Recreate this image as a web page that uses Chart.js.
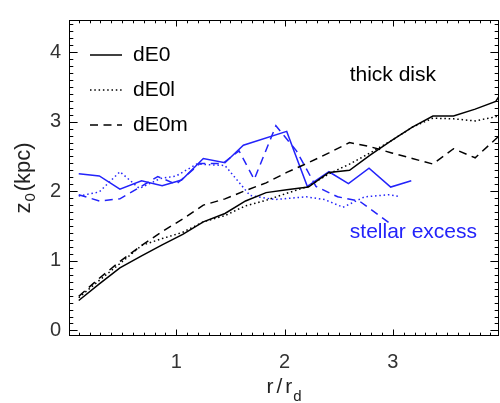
<!DOCTYPE html>
<html lang="en">
<head>
<meta charset="UTF-8" />
<title>z0 profiles</title>
<script src="https://cdn.jsdelivr.net/npm/chart.js"></script>
<style>
  html, body { margin: 0; padding: 0; background: #fff; }
</style>
</head>
<body>
<canvas id="z0Chart" width="500" height="403"></canvas>
<script>
// radial bins (r / r_d) for the thick disk profiles
const rDisk = [0.10, 0.29, 0.48, 0.68, 0.87, 1.06, 1.25, 1.45, 1.64, 1.83, 2.02,
               2.22, 2.41, 2.60, 2.79, 2.99, 3.18, 3.37, 3.56, 3.76, 3.95, 4.14];
// thick disk scale height z0 (kpc)
const z_dE0  = [0.43, 0.67, 0.90, 1.07, 1.23, 1.38, 1.56, 1.68, 1.86, 1.98, 2.02,
                2.06, 2.27, 2.30, 2.52, 2.73, 2.92, 3.08, 3.08, 3.18, 3.29, 3.75];
const z_dE0l = [0.47, 0.72, 0.96, 1.22, 1.32, 1.41, 1.56, 1.65, 1.79, 1.87, 1.97,
                2.07, 2.25, 2.39, 2.55, 2.73, 2.92, 3.05, 3.04, 3.01, 3.07, 3.24];
const z_dE0m = [0.49, 0.75, 0.99, 1.22, 1.42, 1.60, 1.80, 1.89, 2.01, 2.12, 2.27,
                2.41, 2.55, 2.70, 2.64, 2.55, 2.47, 2.39, 2.61, 2.48, 2.75, 3.03];

// stellar excess component
const rExc_dE0  = [0.10, 0.29, 0.48, 0.68, 0.87, 1.05, 1.25, 1.45, 1.62, 2.02, 2.21,
                   2.41, 2.59, 2.78, 2.98, 3.17];
const zExc_dE0  = [2.25, 2.22, 2.03, 2.15, 2.08, 2.16, 2.47, 2.41, 2.66, 2.86, 2.07,
                   2.28, 2.11, 2.33, 2.06, 2.15];
const rExc_dE0l = [0.10, 0.29, 0.48, 0.66, 0.85, 1.00, 1.19, 1.45, 1.68, 1.91, 2.20,
                   2.37, 2.54, 2.74, 2.97, 3.07];
const zExc_dE0l = [1.93, 1.99, 2.28, 2.04, 2.18, 2.22, 2.39, 2.37, 1.94, 1.88, 1.92,
                   1.88, 1.77, 1.92, 1.95, 1.92];
const rExc_dE0m = [0.10, 0.29, 0.48, 0.83, 1.00, 1.22, 1.43, 1.58, 1.72, 1.92, 2.11,
                   2.29, 2.49, 2.69, 2.97];
const zExc_dE0m = [1.95, 1.86, 1.89, 2.21, 2.10, 2.40, 2.40, 2.58, 2.17, 2.94, 2.58,
                   2.07, 1.92, 1.86, 1.54];

const legendNames = ['dE0', 'dE0l', 'dE0m'];

const BLUE = 'rgb(35,35,250)';
const FONT = '"Liberation Sans", Arial, sans-serif';
const SOLID = [], DOTTED = [1.5, 2.8], DASHED = [8, 5.5];

const pts = (rs, zs) => rs.map((r, i) => ({ x: r, y: zs[i] }));
const line = (label, data, color, dash) => ({
  label, data, borderColor: color, borderWidth: 1.5, borderDash: dash,
  pointRadius: 0, tension: 0, fill: false
});

// inward ticks on all four sides plus the frame
const frameTicks = {
  id: 'frameTicks',
  afterDatasetsDraw(chart) {
    const { ctx, chartArea: a, scales: { x, y } } = chart;
    ctx.save();
    ctx.strokeStyle = '#000';
    ctx.lineWidth = 1;
    ctx.strokeRect(a.left + 0.5, a.top + 0.5, a.right - a.left - 1, a.bottom - a.top - 1);
    ctx.beginPath();
    for (let i = 1; i < 40; i++) {
      const px = Math.round(x.getPixelForValue(i / 10)) + 0.5;
      const len = i % 10 === 0 ? 6.5 : 3.3;
      ctx.moveTo(px, a.bottom); ctx.lineTo(px, a.bottom - len);
      ctx.moveTo(px, a.top); ctx.lineTo(px, a.top + len);
    }
    for (let i = 0; i <= 44; i++) {
      const py = Math.round(y.getPixelForValue(i / 10)) + 0.5;
      const len = i % 10 === 0 ? 8.6 : 4.3;
      ctx.moveTo(a.left, py); ctx.lineTo(a.left + len, py);
      ctx.moveTo(a.right, py); ctx.lineTo(a.right - len, py);
    }
    ctx.stroke();
    ctx.restore();
  }
};

// legend, axis titles and labels
const annotations = {
  id: 'annotations',
  afterDraw(chart) {
    const { ctx, chartArea: a, scales: { x, y } } = chart;
    ctx.save();

    // legend
    ctx.font = '21px ' + FONT;
    ctx.textBaseline = 'middle';
    ctx.textAlign = 'left';
    legendNames.forEach((name, i) => {
      const ds = chart.data.datasets[i];
      const ly = a.top + 35 + i * 35;
      ctx.strokeStyle = ds.borderColor;
      ctx.lineWidth = ds.borderWidth;
      ctx.setLineDash(ds.borderDash);
      ctx.beginPath();
      ctx.moveTo(a.left + 21, ly);
      ctx.lineTo(a.left + 53, ly);
      ctx.stroke();
      ctx.setLineDash([]);
      ctx.fillStyle = '#000';
      ctx.fillText(name, a.left + 64, ly);
    });

    // labels inside the plot
    ctx.textAlign = 'center';
    ctx.fillStyle = '#000';
    ctx.fillText('thick disk', x.getPixelForValue(3.0), y.getPixelForValue(3.66));
    ctx.fillStyle = BLUE;
    ctx.fillText('stellar excess', x.getPixelForValue(3.19), y.getPixelForValue(1.41));

    // x title: r / r_d, glyphs spaced apart
    ctx.fillStyle = '#222';
    ctx.textBaseline = 'alphabetic';
    ctx.textAlign = 'left';
    const parts = ['r', '/', 'r'];
    const gap = 3;
    ctx.font = '21px ' + FONT;
    const widths = parts.map(p => ctx.measureText(p).width);
    ctx.font = '15px ' + FONT;
    const wSub = ctx.measureText('d').width;
    const total = widths.reduce((s, w) => s + w, 0) + gap * 2 + 1 + wSub;
    let tx = (a.left + a.right) / 2 - total / 2;
    ctx.font = '21px ' + FONT;
    parts.forEach((p, i) => {
      ctx.fillText(p, tx, 393);
      tx += widths[i] + (i < 2 ? gap : 1);
    });
    ctx.font = '15px ' + FONT;
    ctx.fillText('d', tx, 401);

    // y title: z_0(kpc)
    ctx.translate(30, (a.top + a.bottom) / 2);
    ctx.rotate(-Math.PI / 2);
    ctx.font = '22px ' + FONT;
    const wz = ctx.measureText('z').width;
    const wk = ctx.measureText('(kpc)').width;
    ctx.font = '15px ' + FONT;
    const w0 = ctx.measureText('0').width;
    const ytotal = wz + w0 + wk + 3;
    const ty = -ytotal / 2;
    ctx.font = '22px ' + FONT;
    ctx.fillText('z', ty, 0);
    ctx.font = '15px ' + FONT;
    ctx.fillText('0', ty + wz + 1, 5);
    ctx.font = '22px ' + FONT;
    ctx.fillText('(kpc)', ty + wz + w0 + 3, 0);
    ctx.restore();
  }
};

new Chart(document.getElementById('z0Chart'), {
  type: 'line',
  data: {
    datasets: [
      line('dE0',  pts(rDisk, z_dE0),  '#000', SOLID),
      line('dE0l', pts(rDisk, z_dE0l), '#000', DOTTED),
      line('dE0m', pts(rDisk, z_dE0m), '#000', DASHED),
      line('dE0 excess',  pts(rExc_dE0,  zExc_dE0),  BLUE, SOLID),
      line('dE0l excess', pts(rExc_dE0l, zExc_dE0l), BLUE, DOTTED),
      line('dE0m excess', pts(rExc_dE0m, zExc_dE0m), BLUE, DASHED)
    ]
  },
  options: {
    responsive: false,
    animation: false,
    devicePixelRatio: 1,
    layout: { padding: { top: 13, right: 1, left: 0, bottom: 0 } },
    plugins: { legend: { display: false }, tooltip: { enabled: false } },
    scales: {
      x: {
        type: 'linear',
        min: 0.01, max: 3.98,
        grid: { display: false, drawTicks: false },
        border: { display: false },
        ticks: { stepSize: 1, includeBounds: false, padding: 14, color: '#333',
                 font: { family: FONT, size: 20 } },
        afterFit(scale) { scale.height = 67; }
      },
      y: {
        type: 'linear',
        min: -0.08, max: 4.46,
        grid: { display: false, drawTicks: false },
        border: { display: false },
        ticks: { stepSize: 1, includeBounds: false, padding: 8, color: '#333',
                 font: { family: FONT, size: 20 } },
        afterFit(scale) { scale.width = 69; }
      }
    }
  },
  plugins: [frameTicks, annotations]
});
</script>
</body>
</html>
